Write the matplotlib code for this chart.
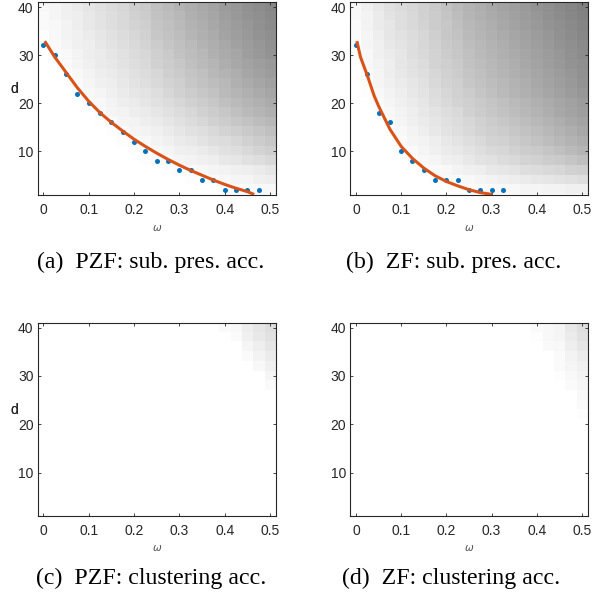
import numpy as np
import matplotlib
matplotlib.use("Agg")
import matplotlib.pyplot as plt

# ---- data -------------------------------------------------------------
omega = [0.0, 0.025, 0.05, 0.075, 0.1, 0.125, 0.15, 0.175, 0.2, 0.225, 0.25,
         0.275, 0.3, 0.325, 0.35, 0.375, 0.4, 0.425, 0.45, 0.475, 0.5]
dims = [40, 38, 36, 34, 32, 30, 28, 26, 24, 22, 20, 18, 16, 14, 12, 10, 8, 6, 4, 2]

# (a) PZF subspace preserving accuracy (rows d=40 ... 2)
acc_a = [
    [0.97,0.96,0.94,0.92,0.90,0.88,0.86,0.84,0.81,0.79,0.75,0.73,0.70,0.68,0.66,0.64,0.61,0.59,0.57,0.55,0.53],
    [0.98,0.96,0.94,0.93,0.91,0.89,0.87,0.85,0.82,0.80,0.76,0.74,0.72,0.69,0.67,0.65,0.62,0.60,0.58,0.56,0.54],
    [0.98,0.97,0.95,0.93,0.91,0.89,0.87,0.85,0.83,0.81,0.77,0.75,0.73,0.70,0.68,0.66,0.63,0.61,0.59,0.57,0.55],
    [0.99,0.97,0.95,0.94,0.92,0.90,0.88,0.86,0.84,0.82,0.78,0.76,0.74,0.71,0.69,0.67,0.64,0.62,0.60,0.58,0.56],
    [1.00,0.98,0.96,0.94,0.93,0.91,0.89,0.87,0.85,0.83,0.80,0.77,0.75,0.73,0.70,0.68,0.66,0.63,0.61,0.59,0.57],
    [1.00,0.99,0.97,0.95,0.93,0.92,0.90,0.88,0.86,0.84,0.81,0.79,0.76,0.74,0.72,0.69,0.67,0.65,0.62,0.60,0.58],
    [1.00,1.00,0.98,0.96,0.94,0.92,0.91,0.89,0.87,0.85,0.82,0.80,0.78,0.75,0.73,0.71,0.68,0.66,0.64,0.62,0.60],
    [1.00,1.00,0.99,0.97,0.95,0.93,0.92,0.90,0.88,0.86,0.84,0.81,0.79,0.77,0.75,0.72,0.70,0.68,0.65,0.63,0.61],
    [1.00,1.00,1.00,0.98,0.96,0.94,0.93,0.91,0.89,0.87,0.85,0.83,0.81,0.78,0.76,0.74,0.72,0.69,0.67,0.65,0.63],
    [1.00,1.00,1.00,0.99,0.97,0.96,0.94,0.92,0.90,0.89,0.87,0.84,0.82,0.80,0.78,0.76,0.73,0.71,0.69,0.67,0.65],
    [1.00,1.00,1.00,1.00,0.98,0.97,0.95,0.93,0.92,0.90,0.88,0.86,0.84,0.82,0.80,0.78,0.75,0.73,0.71,0.69,0.67],
    [1.00,1.00,1.00,1.00,1.00,0.98,0.96,0.95,0.93,0.92,0.90,0.88,0.86,0.84,0.82,0.80,0.78,0.75,0.73,0.71,0.69],
    [1.00,1.00,1.00,1.00,1.00,0.99,0.98,0.96,0.95,0.93,0.92,0.90,0.88,0.86,0.84,0.82,0.80,0.78,0.76,0.74,0.72],
    [1.00,1.00,1.00,1.00,1.00,1.00,0.99,0.98,0.96,0.95,0.94,0.92,0.90,0.88,0.87,0.85,0.83,0.81,0.79,0.77,0.75],
    [1.00,1.00,1.00,1.00,1.00,1.00,1.00,0.99,0.98,0.97,0.95,0.94,0.92,0.91,0.89,0.87,0.86,0.84,0.82,0.80,0.78],
    [1.00,1.00,1.00,1.00,1.00,1.00,1.00,1.00,0.99,0.98,0.97,0.96,0.94,0.93,0.92,0.90,0.88,0.87,0.85,0.83,0.81],
    [1.00,1.00,1.00,1.00,1.00,1.00,1.00,1.00,1.00,0.99,0.98,0.97,0.96,0.95,0.94,0.93,0.91,0.90,0.88,0.87,0.85],
    [1.00,1.00,1.00,1.00,1.00,1.00,1.00,1.00,1.00,1.00,1.00,0.99,0.98,0.98,0.97,0.96,0.95,0.94,0.93,0.92,0.90],
    [1.00,1.00,1.00,1.00,1.00,1.00,1.00,1.00,1.00,1.00,1.00,1.00,1.00,0.99,0.99,0.98,0.97,0.96,0.96,0.94,0.93],
    [1.00,1.00,1.00,1.00,1.00,1.00,1.00,1.00,1.00,1.00,1.00,1.00,1.00,1.00,1.00,1.00,0.99,0.99,0.98,0.97,0.97],
]

# (b) ZF subspace preserving accuracy (rows d=40 ... 2)
acc_b = [
    [0.97,0.94,0.91,0.88,0.86,0.84,0.82,0.79,0.76,0.73,0.70,0.68,0.66,0.64,0.62,0.60,0.58,0.56,0.54,0.52,0.50],
    [0.97,0.95,0.92,0.89,0.87,0.85,0.82,0.80,0.77,0.74,0.71,0.69,0.67,0.65,0.63,0.61,0.59,0.57,0.55,0.53,0.51],
    [0.98,0.95,0.92,0.90,0.87,0.85,0.83,0.80,0.78,0.75,0.72,0.70,0.68,0.66,0.64,0.62,0.60,0.58,0.56,0.54,0.52],
    [0.98,0.96,0.93,0.90,0.88,0.86,0.84,0.81,0.78,0.76,0.73,0.71,0.69,0.67,0.65,0.63,0.61,0.59,0.57,0.55,0.53],
    [0.99,0.96,0.94,0.91,0.89,0.87,0.84,0.82,0.79,0.77,0.74,0.72,0.70,0.68,0.66,0.64,0.62,0.60,0.58,0.56,0.54],
    [1.00,0.97,0.94,0.92,0.90,0.87,0.85,0.83,0.80,0.78,0.75,0.73,0.71,0.69,0.67,0.65,0.63,0.61,0.59,0.57,0.55],
    [1.00,0.97,0.95,0.93,0.90,0.88,0.86,0.83,0.81,0.79,0.76,0.74,0.72,0.70,0.68,0.66,0.64,0.62,0.60,0.58,0.56],
    [1.00,0.98,0.96,0.93,0.91,0.89,0.87,0.84,0.82,0.80,0.77,0.75,0.73,0.71,0.69,0.67,0.65,0.63,0.61,0.59,0.57],
    [1.00,0.99,0.96,0.94,0.92,0.90,0.88,0.85,0.83,0.81,0.78,0.76,0.74,0.72,0.70,0.68,0.66,0.64,0.62,0.60,0.58],
    [1.00,0.99,0.97,0.95,0.93,0.91,0.89,0.86,0.84,0.82,0.80,0.77,0.75,0.73,0.71,0.69,0.67,0.65,0.63,0.61,0.59],
    [1.00,1.00,0.98,0.96,0.94,0.92,0.90,0.87,0.85,0.83,0.81,0.79,0.77,0.75,0.73,0.71,0.69,0.67,0.65,0.63,0.61],
    [1.00,1.00,0.99,0.97,0.95,0.93,0.91,0.89,0.87,0.85,0.82,0.80,0.78,0.76,0.74,0.72,0.70,0.68,0.66,0.64,0.62],
    [1.00,1.00,1.00,0.98,0.96,0.94,0.92,0.90,0.88,0.86,0.84,0.82,0.80,0.78,0.76,0.74,0.72,0.70,0.68,0.66,0.64],
    [1.00,1.00,1.00,0.99,0.97,0.95,0.93,0.91,0.89,0.87,0.85,0.83,0.81,0.80,0.78,0.76,0.74,0.72,0.70,0.68,0.66],
    [1.00,1.00,1.00,1.00,0.98,0.96,0.95,0.93,0.91,0.89,0.87,0.85,0.83,0.82,0.80,0.78,0.76,0.74,0.72,0.70,0.68],
    [1.00,1.00,1.00,1.00,0.99,0.98,0.96,0.94,0.92,0.91,0.89,0.87,0.85,0.84,0.82,0.80,0.79,0.77,0.75,0.73,0.71],
    [1.00,1.00,1.00,1.00,1.00,0.99,0.97,0.96,0.94,0.93,0.91,0.89,0.88,0.86,0.85,0.83,0.82,0.80,0.79,0.77,0.75],
    [1.00,1.00,1.00,1.00,1.00,1.00,0.99,0.98,0.97,0.95,0.94,0.93,0.91,0.90,0.89,0.87,0.86,0.85,0.84,0.82,0.81],
    [1.00,1.00,1.00,1.00,1.00,1.00,1.00,0.99,0.98,0.98,0.97,0.96,0.95,0.94,0.93,0.92,0.91,0.90,0.89,0.88,0.87],
    [1.00,1.00,1.00,1.00,1.00,1.00,1.00,1.00,1.00,0.99,0.99,0.98,0.98,0.97,0.97,0.96,0.96,0.95,0.95,0.94,0.94],
]

# (c),(d) clustering accuracy: only the top-right corner differs from 1.
# patch columns: omega = 0.4, 0.425, 0.45, 0.475, 0.5 ; rows d = 40 ... 22
patch_c = [
    [0.98,0.97,0.93,0.90,0.87],
    [1.00,0.98,0.94,0.91,0.88],
    [1.00,1.00,0.96,0.93,0.90],
    [1.00,1.00,0.98,0.95,0.92],
    [1.00,1.00,1.00,0.97,0.94],
    [1.00,1.00,1.00,1.00,0.96],
    [1.00,1.00,1.00,1.00,0.98],
    [1.00,1.00,1.00,1.00,1.00],
    [1.00,1.00,1.00,1.00,1.00],
    [1.00,1.00,1.00,1.00,1.00],
]
patch_d = [
    [0.98,0.97,0.96,0.91,0.87],
    [0.99,0.97,0.96,0.92,0.88],
    [1.00,0.98,0.97,0.93,0.90],
    [1.00,1.00,0.98,0.95,0.92],
    [1.00,1.00,0.98,0.96,0.94],
    [1.00,1.00,0.99,0.97,0.95],
    [1.00,1.00,1.00,0.98,0.96],
    [1.00,1.00,1.00,1.00,0.97],
    [1.00,1.00,1.00,1.00,0.98],
    [1.00,1.00,1.00,1.00,0.99],
]

# empirical thresholds (dots)
dot_w_a = [0.0,0.025,0.05,0.075,0.1,0.125,0.15,0.175,0.2,0.225,0.25,0.275,0.3,0.325,0.35,0.375,0.4,0.425,0.45,0.475]
dot_d_a = [32,30,26,22,20,18,16,14,12,10,8,8,6,6,4,4,2,2,2,2]
dot_w_b = [0.0,0.025,0.05,0.075,0.1,0.125,0.15,0.175,0.2,0.225,0.25,0.275,0.3,0.325]
dot_d_b = [32,26,18,16,10,8,6,4,4,4,2,2,2,2]

# fitted curves
curve_w_a = [0.003,0.025,0.05,0.075,0.1,0.125,0.15,0.175,0.2,0.225,0.25,0.275,0.3,0.325,0.35,0.375,0.4,0.425,0.45,0.465]
curve_d_a = [32.9,29.6,26.4,23.2,20.4,18.0,16.0,14.2,12.5,11.0,9.6,8.3,7.1,6.0,5.0,4.0,3.1,2.3,1.6,1.0]
curve_w_b = [0.002,0.01,0.025,0.04,0.05,0.075,0.1,0.125,0.15,0.175,0.2,0.225,0.25,0.275,0.302]
curve_d_b = [32.9,29.6,25.8,21.6,19.4,14.6,11.0,8.5,6.5,4.9,3.7,2.8,2.0,1.4,1.0]

captions = ["(a)  PZF: sub. pres. acc.", "(b)  ZF: sub. pres. acc.",
            "(c)  PZF: clustering acc.", "(d)  ZF: clustering acc."]

# ---- build full matrices for c, d ----
def embed(patch):
    m = np.ones((len(dims), len(omega)))
    p = np.array(patch)
    m[:p.shape[0], len(omega) - p.shape[1]:] = p
    return m

mats = [np.array(acc_a), np.array(acc_b), embed(patch_c), embed(patch_d)]

# ---- figure ----
W, H = 599, 600
fig = plt.figure(figsize=(W / 100, H / 100), dpi=100)
fig.patch.set_facecolor("white")

ax_px = [  # left, top, right, bottom in pixels
    (37.7, 2.2, 275.7, 194.5),
    (350.3, 2.2, 587.7, 194.5),
    (37.7, 322.8, 275.7, 516.0),
    (350.3, 322.8, 587.7, 516.0),
]
cap_pos = [(151, 262), (454, 262), (151, 578), (451, 578)]
dlab_y = [89, 89, 410, 410]
wlab_y = [228, 228, 548, 548]

dcol = "#262626"
tick_font = "Liberation Sans"

for i, (l, t, r, b) in enumerate(ax_px):
    ax = fig.add_axes([l / W, 1 - b / H, (r - l) / W, (b - t) / H])
    ax.imshow(mats[i][::-1], cmap="gray", vmin=0, vmax=1, origin="lower",
              extent=[omega[0] - 0.0125, omega[-1] + 0.0125, dims[-1] - 1, dims[0] + 1],
              aspect="auto", interpolation="nearest")
    if i == 0:
        ax.plot(dot_w_a, dot_d_a, "o", color="#0072BD", ms=3.6, mec="none", zorder=3)
        ax.plot(curve_w_a, curve_d_a, "-", color="#D95319", lw=2.2, zorder=4,
                solid_capstyle="butt")
    elif i == 1:
        ax.plot(dot_w_b, dot_d_b, "o", color="#0072BD", ms=3.6, mec="none", zorder=3)
        ax.plot(curve_w_b, curve_d_b, "-", color="#D95319", lw=2.2, zorder=4,
                solid_capstyle="butt")
    ax.set_xlim(omega[0] - 0.0125, omega[-1] + 0.0125)
    ax.set_ylim(1, 41)
    ax.set_xticks([0, 0.1, 0.2, 0.3, 0.4, 0.5])
    ax.set_xticklabels(["0", "0.1", "0.2", "0.3", "0.4", "0.5"])
    ax.set_yticks([10, 20, 30, 40])
    ax.tick_params(direction="in", length=2.2, width=0.6, color=dcol,
                   top=True, right=True, labelsize=10, labelcolor=dcol)
    ax.tick_params(axis="x", pad=6)
    ax.tick_params(axis="y", pad=3)
    for lab in ax.get_xticklabels() + ax.get_yticklabels():
        lab.set_fontfamily(tick_font)
    for s in ax.spines.values():
        s.set_color(dcol)
        s.set_linewidth(0.8)
    ax.set_ylabel("d", rotation=0, fontsize=10, color=dcol, family=tick_font,
                  va="center", ha="center")
    ax.yaxis.set_label_coords((14 - l) / (r - l), (b - dlab_y[i]) / (b - t))
    ax.set_xlabel(r"$\omega$", fontsize=7.5, color="#555555")
    ax.xaxis.set_label_coords(0.5, (b - wlab_y[i]) / (b - t))
    ax.xaxis.label.set_va("center")
    cx, cy = cap_pos[i]
    fig.text(cx / W, 1 - cy / H, captions[i], ha="center", va="center",
             fontsize=17.2, family="Liberation Serif", color="black")

fig.savefig("out.png", dpi=100, facecolor="white")
